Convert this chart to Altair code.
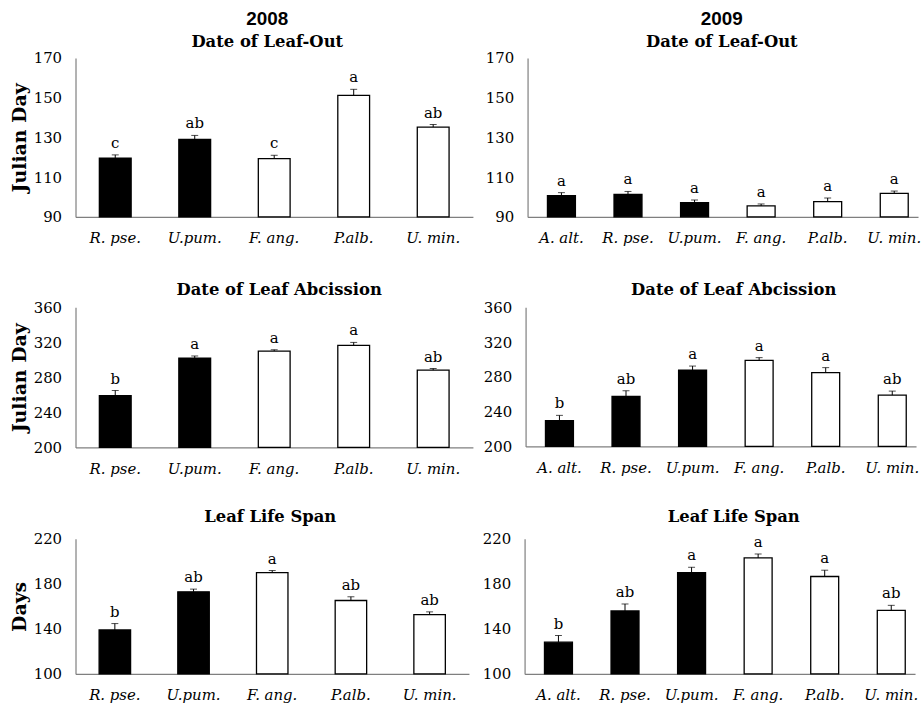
import altair as alt
import pandas as pd

SERIF = "DejaVu Serif"
SANS = "Liberation Sans"

# Species on each year's axis; the first three are drawn as solid bars
species_2008 = ["R. pse.", "U.pum.", "F. ang.", "P.alb.", "U. min."]
species_2009 = ["A. alt.", "R. pse.", "U.pum.", "F. ang.", "P.alb.", "U. min."]
solid_species = ["A. alt.", "R. pse.", "U.pum."]

# Date of leaf-out (Julian day): means, standard errors, group letters
leafout_2008 = [119.5, 129.0, 119.3, 151.2, 135.2]
leafout_2008_se = [1.7, 2.0, 1.7, 3.0, 1.3]
leafout_2008_grp = ["c", "ab", "c", "a", "ab"]

leafout_2009 = [100.7, 101.3, 97.2, 95.5, 97.7, 101.8]
leafout_2009_se = [1.5, 1.5, 1.3, 1.0, 1.8, 1.2]
leafout_2009_grp = ["a", "a", "a", "a", "a", "a"]

# Date of leaf abscission (Julian day)
abscission_2008 = [259.0, 301.8, 310.0, 316.5, 288.2]
abscission_2008_se = [6.0, 2.6, 1.5, 3.4, 1.9]
abscission_2008_grp = ["b", "a", "a", "a", "ab"]

abscission_2009 = [229.6, 257.5, 287.8, 299.0, 284.8, 259.0]
abscission_2009_se = [6.1, 6.5, 4.6, 3.1, 5.8, 4.6]
abscission_2009_grp = ["b", "ab", "a", "a", "a", "ab"]

# Leaf life span (days)
lifespan_2008 = [139.1, 172.9, 190.0, 165.2, 152.7]
lifespan_2008_se = [5.6, 2.4, 1.8, 3.3, 2.4]
lifespan_2008_grp = ["b", "ab", "a", "ab", "ab"]

lifespan_2009 = [128.2, 155.9, 190.0, 203.0, 186.5, 156.5]
lifespan_2009_se = [5.9, 6.2, 4.7, 3.5, 5.6, 4.4]
lifespan_2009_grp = ["b", "ab", "a", "a", "a", "ab"]

leafout_ticks = [90, 110, 130, 150, 170]
abscission_ticks = [200, 240, 280, 320, 360]
lifespan_ticks = [100, 140, 180, 220]


def panel(species, means, errs, groups, ticks, width, height, title,
          ytitle=None, title_pad=4, wide=False):
    lo, hi = ticks[0], ticks[-1]
    df = pd.DataFrame({
        "sp": species,
        "mean": means,
        "se": errs,
        "grp": groups,
        "kind": ["solid" if s in solid_species else "open" for s in species],
    })
    df["top"] = df["mean"] + df["se"]

    if wide:
        xscale = alt.Scale(paddingInner=0.58, paddingOuter=0.223, align=0.67)
    else:
        xscale = alt.Scale(paddingInner=0.6, paddingOuter=0.3)
    x = alt.X("sp:N", sort=species, scale=xscale, axis=alt.Axis(title=None))

    yscale = alt.Scale(domain=[lo, hi], nice=False, zero=False)
    yaxis = alt.Axis(values=ticks, title=ytitle, titlePadding=title_pad)

    base = alt.Chart(df).encode(x=x)
    bars = base.mark_bar(stroke="black", strokeWidth=1.3).encode(
        y=alt.Y("mean:Q", scale=yscale, axis=yaxis),
        y2=alt.datum(lo),
        fill=alt.Fill("kind:N", scale=alt.Scale(domain=["solid", "open"],
                                                range=["black", "white"]),
                      legend=None),
    )
    err = base.mark_rule(color="black", strokeWidth=1).encode(
        y=alt.Y("mean:Q", scale=yscale, axis=yaxis), y2="top:Q")
    cap = base.mark_tick(color="black", size=7, thickness=1).encode(
        y=alt.Y("top:Q", scale=yscale, axis=yaxis))
    letters = base.mark_text(font=SERIF, fontSize=15, baseline="alphabetic",
                             dy=-7, color="black").encode(
        y=alt.Y("top:Q", scale=yscale, axis=yaxis), text="grp:N")
    return alt.layer(bars, err, cap, letters).properties(
        width=width, height=height, title=title)


def year_title(year, text, dx):
    return alt.TitleParams(text=year, subtitle=text, font=SANS, fontSize=19,
                           fontWeight="bold", color="black",
                           subtitleFont=SERIF, subtitleFontSize=16.5,
                           subtitleFontWeight="bold", subtitleColor="black",
                           subtitlePadding=6, anchor="middle", offset=0, dx=dx)


def plain_title(text, offset, dx):
    return alt.TitleParams(text=text, font=SERIF, fontSize=16.5,
                           fontWeight="bold", color="black",
                           anchor="middle", offset=offset, dx=dx)


row1 = alt.hconcat(
    panel(species_2008, leafout_2008, leafout_2008_se, leafout_2008_grp,
          leafout_ticks, 400, 160, year_title("2008", "Date of Leaf-Out", -7),
          ytitle="Julian Day", title_pad=4),
    panel(species_2009, leafout_2009, leafout_2009_se, leafout_2009_grp,
          leafout_ticks, 393, 160, year_title("2009", "Date of Leaf-Out", -1),
          wide=True),
    spacing=12,
)
row2 = alt.hconcat(
    panel(species_2008, abscission_2008, abscission_2008_se,
          abscission_2008_grp, abscission_ticks, 400, 141,
          plain_title("Date of Leaf Abcission", 2, 5), ytitle="Julian Day",
          title_pad=4),
    panel(species_2009, abscission_2009, abscission_2009_se,
          abscission_2009_grp, abscission_ticks, 393, 140,
          plain_title("Date of Leaf Abcission", 2, 13), wide=True),
    spacing=10,
)
row3 = alt.hconcat(
    panel(species_2008, lifespan_2008, lifespan_2008_se, lifespan_2008_grp,
          lifespan_ticks, 396, 136, plain_title("Leaf Life Span", 6, -2),
          ytitle="Days", title_pad=4),
    panel(species_2009, lifespan_2009, lifespan_2009_se, lifespan_2009_grp,
          lifespan_ticks, 393, 136, plain_title("Leaf Life Span", 6, 14),
          wide=True),
    spacing=13,
)

upper = alt.vconcat(row1, row2, spacing=36)
chart = alt.vconcat(upper, row3, spacing=33).properties(
    padding={"left": 10, "top": 7, "right": 0, "bottom": 0},
    background="white",
).configure_view(
    stroke=None
).configure_axis(
    grid=False, ticks=False, domainColor="#7f7f7f", domainWidth=1.2,
    labelColor="black", titleColor="black",
).configure_axisX(
    labelFont=SERIF, labelFontStyle="italic", labelFontSize=15, labelAngle=0,
    labelPadding=14,
).configure_axisY(
    labelFont=SERIF, labelFontSize=15, labelPadding=14,
    titleFont=SERIF, titleFontWeight="bold", titleFontSize=19,
)

chart.save("out.html", embed_options={"renderer": "svg", "actions": False})
